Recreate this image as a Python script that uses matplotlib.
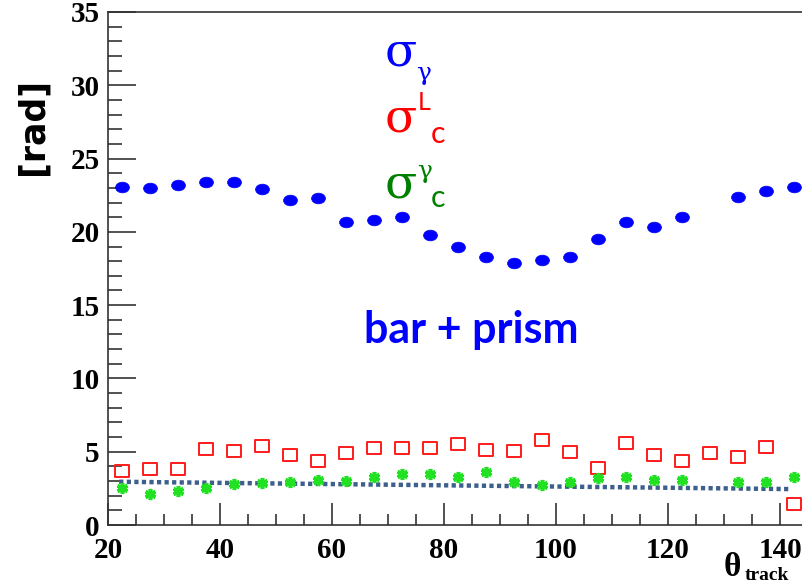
import numpy as np
import matplotlib
matplotlib.use("Agg")
import matplotlib.pyplot as plt
from matplotlib.path import Path
from matplotlib.transforms import Affine2D
from matplotlib.ticker import MultipleLocator

# theta bins (deg), one point per 5 deg bin
theta = [22.5, 27.5, 32.5, 37.5, 42.5, 47.5, 52.5, 57.5, 62.5, 67.5, 72.5,
         77.5, 82.5, 87.5, 92.5, 97.5, 102.5, 107.5, 112.5, 117.5, 122.5,
         127.5, 132.5, 137.5, 142.5]

# sigma_gamma (blue), bin 127.5 empty
sig_gamma = [23.05, 22.97, 23.2, 23.4, 23.4, 22.9, 22.2, 22.3, 20.7, 20.8, 21.0,
             19.8, 19.0, 18.3, 17.9, 18.1, 18.3, 19.5, 20.7, 20.3, 21.0,
             np.nan, 22.4, 22.8, 23.05]

# sigma_c^L (red squares)
sig_cL = [3.68, 3.8, 3.8, 5.2, 5.05, 5.4, 4.77, 4.36, 4.9, 5.25, 5.25,
          5.25, 5.5, 5.1, 5.05, 5.8, 4.97, 3.9, 5.6, 4.8, 4.36,
          4.9, 4.65, 5.3, 1.45]

# sigma_c^gamma (green), bin 127.5 empty
sig_cg = [2.5, 2.1, 2.3, 2.5, 2.8, 2.85, 2.95, 3.05, 3.0, 3.3, 3.45,
          3.45, 3.3, 3.6, 2.95, 2.75, 2.95, 3.2, 3.3, 3.05, 3.05,
          np.nan, 2.95, 2.95, 3.3]

# straight-line fit drawn across the range
fit_x = [22.0, 142.0]
fit_y = [2.95, 2.45]

W, H = 802, 586
fig = plt.figure(figsize=(W / 100, H / 100), dpi=100)
ax = fig.add_axes([108 / W, 61 / H, 700 / W, 513 / H])

def px(x, y):
    return x / W, 1 - y / H

ellipse = Path.unit_circle().transformed(Affine2D().scale(1.3, 1.0))
rect = Path([(-1.2, -1), (1.2, -1), (1.2, 1), (-1.2, 1), (-1.2, -1)],
            [Path.MOVETO, Path.LINETO, Path.LINETO, Path.LINETO, Path.CLOSEPOLY])

ax.plot(fit_x, fit_y, color="#3d5f8c", lw=3.2, linestyle=(0, (0.95, 0.75)), zorder=2)
ax.plot(theta, sig_gamma, ls="none", marker=ellipse, ms=10, color="#0000ff",
        mec="#0000ff", mew=0.5, zorder=3)
ax.plot(theta, sig_cL, ls="none", marker=rect, ms=10, mfc="none", mec="#ff1a1a",
        mew=1.4, zorder=3)
ax.plot(theta, sig_cg, ls="none", marker=(6, 2, 0), ms=8, mec="#22e022",
        mew=2.6, zorder=3)

ax.set_xlim(20, 145)
ax.set_ylim(0, 35)
ax.xaxis.set_major_locator(MultipleLocator(20))
ax.xaxis.set_minor_locator(MultipleLocator(5))
ax.yaxis.set_major_locator(MultipleLocator(5))
ax.yaxis.set_minor_locator(MultipleLocator(1))
ax.tick_params(which="both", direction="in", top=False, right=False, width=1.2,
               color="#333333")
ax.tick_params(axis="x", which="major", length=16, pad=9)
ax.tick_params(axis="x", which="minor", length=8)
ax.tick_params(axis="y", which="major", length=20, pad=6)
ax.tick_params(axis="y", which="minor", length=10)
for sp in ax.spines.values():
    sp.set_linewidth(1.2)
    sp.set_color("#333333")

for lab in ax.get_xticklabels() + ax.get_yticklabels():
    lab.set_fontfamily("Liberation Serif")
    lab.set_fontweight("bold")
    lab.set_fontsize(21)

fig.text(*px(33, 126), "[rad]", rotation=90, ha="center", va="center",
         fontsize=25, fontweight="bold", family="DejaVu Sans")

# theta_track axis title
fig.text(*px(724, 576), "θ", fontsize=24, fontweight="bold",
         family="Liberation Serif", ha="left", va="baseline")
fig.text(*px(745, 580), "track", fontsize=14, fontweight="bold",
         family="Liberation Serif", ha="left", va="baseline")

# series labels
fig.text(*px(385, 66), "σ", fontsize=34, color="#0000ff",
         family="DejaVu Serif", ha="left", va="baseline")
fig.text(*px(416, 80), "γ", fontsize=18, color="#0000ff",
         family="DejaVu Serif", ha="left", va="baseline")

fig.text(*px(385, 131), "σ", fontsize=34, color="#ff0000",
         family="DejaVu Serif", ha="left", va="baseline")
fig.text(*px(418, 110), "L", fontsize=18, color="#ff0000",
         family="Lato", ha="left", va="baseline")
fig.text(*px(431, 143), "c", fontsize=22, color="#ff0000",
         family="Lato", ha="left", va="baseline")

fig.text(*px(385, 198), "σ", fontsize=34, color="#008000",
         family="DejaVu Serif", ha="left", va="baseline")
fig.text(*px(417, 178), "γ", fontsize=18, color="#008000",
         family="DejaVu Serif", ha="left", va="baseline")
fig.text(*px(431, 207), "c", fontsize=22, color="#008000",
         family="Lato", ha="left", va="baseline")

fig.text(*px(471, 343), "bar + prism", fontsize=31, fontweight="bold",
         color="#0000ff", family="Lato", ha="center", va="baseline")

fig.savefig("out.png", dpi=100)
